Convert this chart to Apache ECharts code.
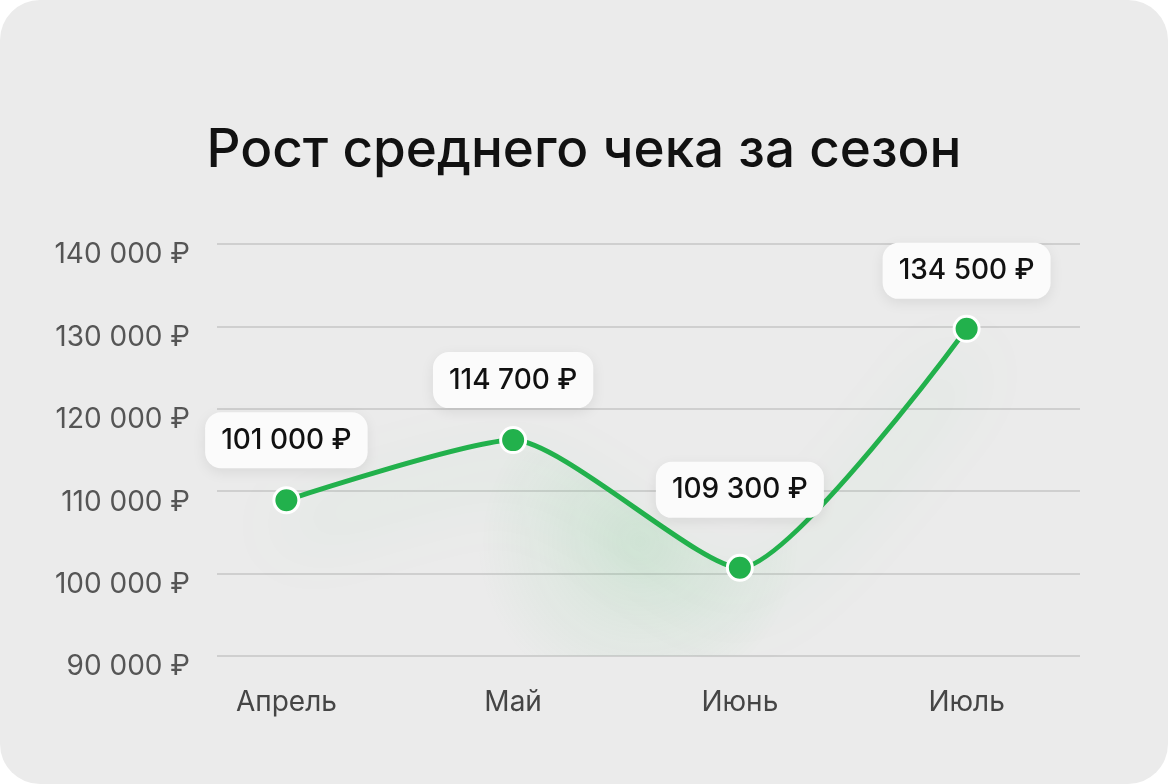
<!DOCTYPE html>
<html>
<head>
<meta charset="utf-8">
<script src="https://cdn.jsdelivr.net/npm/echarts@6/dist/echarts.min.js"></script>
<style>
  html, body { margin: 0; padding: 0; background: #ffffff; }
  #card { width: 1168px; height: 784px; background: #ebebeb; border-radius: 40px; overflow: hidden; }
  #chart { width: 1168px; height: 784px; }
</style>
</head>
<body>
<div id="card"><div id="chart"></div></div>
<script>
var months = ['Апрель', 'Май', 'Июнь', 'Июль'];
// positions of the points as drawn
var values = [108900, 116200, 100700, 129700];
// texts in the callouts as printed
var callouts = ['101 000 ₽', '114 700 ₽', '109 300 ₽', '134 500 ₽'];
var yMin = 90000, yMax = 140000, yStep = 10000;

(function() {
  var green = '#22b14c';
  var font = 'Inter, "Noto Sans", sans-serif';
  var gaps = [18, 18, 36, 16];

  function rub(v) {
    return String(v).replace(/\B(?=(\d{3})+(?!\d))/g, ' ') + ' ₽';
  }

  var chart = echarts.init(document.getElementById('chart'), null, { renderer: 'canvas' });
  chart.setOption({
    animation: false,
    backgroundColor: 'transparent',
    title: {
      text: 'Рост среднего чека за сезон',
      left: 'center',
      top: 120,
      textStyle: { fontFamily: font, fontSize: 53, fontWeight: 500, color: '#111111' }
    },
    grid: [
      { left: 217, right: 88, top: 244, bottom: 128 },
      { left: 173, right: 88, top: 244, bottom: 128 }
    ],
    xAxis: [
      { gridIndex: 0, type: 'value', show: false, min: 0, max: 1 },
      {
        gridIndex: 1,
        type: 'category',
        data: months,
        boundaryGap: true,
        axisLine: { show: false },
        axisTick: { show: false },
        axisLabel: { margin: 33, fontFamily: font, fontSize: 28, color: '#454545' }
      }
    ],
    yAxis: [
      {
        gridIndex: 0,
        type: 'value',
        min: yMin, max: yMax, interval: yStep,
        axisLine: { show: false },
        axisTick: { show: false },
        axisLabel: {
          margin: 27, fontFamily: font, fontSize: 28, color: '#555555',
          verticalAlign: 'top', lineHeight: 22,
          formatter: rub
        },
        splitLine: { lineStyle: { color: '#cfcfcf', width: 2 } }
      },
      {
        gridIndex: 1,
        type: 'value',
        min: yMin, max: yMax, interval: yStep,
        show: false,
        splitLine: { show: false }
      }
    ],
    series: [{
      type: 'line',
      xAxisIndex: 1,
      yAxisIndex: 1,
      smooth: 0.2,
      data: values.map(function(v, i) {
        return {
          value: v,
          label: { distance: gaps[i] }
        };
      }),
      symbol: 'circle',
      symbolSize: 25,
      itemStyle: { color: green, borderColor: '#ffffff', borderWidth: 3 },
      lineStyle: {
        color: green, width: 5,
        shadowColor: 'rgba(40,180,80,0.4)', shadowBlur: 70, shadowOffsetY: 30
      },
      areaStyle: {
        color: new echarts.graphic.RadialGradient(0.52, 0.65, 0.5, [
          { offset: 0, color: 'rgba(70,190,100,0.2)' },
          { offset: 1, color: 'rgba(70,190,100,0)' }
        ])
      },
      label: {
        show: true,
        position: 'top',
        formatter: function(p) { return callouts[p.dataIndex]; },
        fontFamily: font,
        fontSize: 28,
        fontWeight: 500,
        color: '#111111',
        backgroundColor: '#fbfbfb',
        borderRadius: 16,
        padding: [14, 16, 14, 16],
        shadowColor: 'rgba(0,0,0,0.08)',
        shadowBlur: 14,
        shadowOffsetY: 4
      }
    }]
  });
})();
</script>
</body>
</html>
